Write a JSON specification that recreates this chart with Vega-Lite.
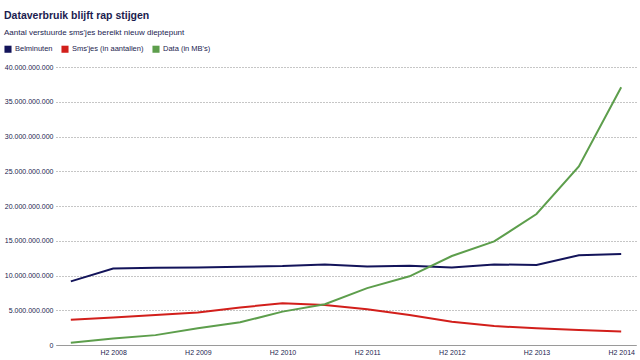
{
  "$schema": "https://vega.github.io/schema/vega-lite/v6.json",
  "width": 580,
  "height": 278,
  "padding": {"left": 4, "top": 10, "right": 4, "bottom": 2},
  "background": "white",
  "title": {
    "text": "Dataverbruik blijft rap stijgen",
    "subtitle": "Aantal verstuurde sms'jes bereikt nieuw dieptepunt",
    "anchor": "start",
    "font": "Liberation Sans",
    "fontSize": 10.5,
    "fontWeight": "bold",
    "color": "#1b1c4f",
    "subtitleFont": "Liberation Sans",
    "subtitleFontSize": 8,
    "subtitleColor": "#1b1c4f",
    "subtitlePadding": 8,
    "offset": 8
  },
  "data": {
    "values": [
      {"periode": "H1 2008", "reeks": "Belminuten", "waarde": 9150000000},
      {"periode": "H2 2008", "reeks": "Belminuten", "waarde": 11000000000},
      {"periode": "H1 2009", "reeks": "Belminuten", "waarde": 11100000000},
      {"periode": "H2 2009", "reeks": "Belminuten", "waarde": 11150000000},
      {"periode": "H1 2010", "reeks": "Belminuten", "waarde": 11250000000},
      {"periode": "H2 2010", "reeks": "Belminuten", "waarde": 11350000000},
      {"periode": "H1 2011", "reeks": "Belminuten", "waarde": 11600000000},
      {"periode": "H2 2011", "reeks": "Belminuten", "waarde": 11300000000},
      {"periode": "H1 2012", "reeks": "Belminuten", "waarde": 11400000000},
      {"periode": "H2 2012", "reeks": "Belminuten", "waarde": 11150000000},
      {"periode": "H1 2013", "reeks": "Belminuten", "waarde": 11600000000},
      {"periode": "H2 2013", "reeks": "Belminuten", "waarde": 11500000000},
      {"periode": "H1 2014", "reeks": "Belminuten", "waarde": 12900000000},
      {"periode": "H2 2014", "reeks": "Belminuten", "waarde": 13100000000},
      {"periode": "H1 2008", "reeks": "Sms'jes (in aantallen)", "waarde": 3650000000},
      {"periode": "H2 2008", "reeks": "Sms'jes (in aantallen)", "waarde": 3950000000},
      {"periode": "H1 2009", "reeks": "Sms'jes (in aantallen)", "waarde": 4300000000},
      {"periode": "H2 2009", "reeks": "Sms'jes (in aantallen)", "waarde": 4670000000},
      {"periode": "H1 2010", "reeks": "Sms'jes (in aantallen)", "waarde": 5400000000},
      {"periode": "H2 2010", "reeks": "Sms'jes (in aantallen)", "waarde": 6000000000},
      {"periode": "H1 2011", "reeks": "Sms'jes (in aantallen)", "waarde": 5770000000},
      {"periode": "H2 2011", "reeks": "Sms'jes (in aantallen)", "waarde": 5140000000},
      {"periode": "H1 2012", "reeks": "Sms'jes (in aantallen)", "waarde": 4320000000},
      {"periode": "H2 2012", "reeks": "Sms'jes (in aantallen)", "waarde": 3360000000},
      {"periode": "H1 2013", "reeks": "Sms'jes (in aantallen)", "waarde": 2730000000},
      {"periode": "H2 2013", "reeks": "Sms'jes (in aantallen)", "waarde": 2400000000},
      {"periode": "H1 2014", "reeks": "Sms'jes (in aantallen)", "waarde": 2150000000},
      {"periode": "H2 2014", "reeks": "Sms'jes (in aantallen)", "waarde": 1960000000},
      {"periode": "H1 2008", "reeks": "Data (in MB's)", "waarde": 320000000},
      {"periode": "H2 2008", "reeks": "Data (in MB's)", "waarde": 940000000},
      {"periode": "H1 2009", "reeks": "Data (in MB's)", "waarde": 1420000000},
      {"periode": "H2 2009", "reeks": "Data (in MB's)", "waarde": 2400000000},
      {"periode": "H1 2010", "reeks": "Data (in MB's)", "waarde": 3260000000},
      {"periode": "H2 2010", "reeks": "Data (in MB's)", "waarde": 4800000000},
      {"periode": "H1 2011", "reeks": "Data (in MB's)", "waarde": 5870000000},
      {"periode": "H2 2011", "reeks": "Data (in MB's)", "waarde": 8190000000},
      {"periode": "H1 2012", "reeks": "Data (in MB's)", "waarde": 9880000000},
      {"periode": "H2 2012", "reeks": "Data (in MB's)", "waarde": 12800000000},
      {"periode": "H1 2013", "reeks": "Data (in MB's)", "waarde": 14900000000},
      {"periode": "H2 2013", "reeks": "Data (in MB's)", "waarde": 18850000000},
      {"periode": "H1 2014", "reeks": "Data (in MB's)", "waarde": 25700000000},
      {"periode": "H2 2014", "reeks": "Data (in MB's)", "waarde": 37100000000}
    ]
  },
  "mark": {"type": "line", "strokeWidth": 2, "interpolate": "linear"},
  "encoding": {
    "x": {
      "field": "periode",
      "type": "ordinal",
      "sort": null,
      "scale": {"type": "point", "padding": 0.35},
      "axis": {
        "title": null,
        "labelAngle": 0,
        "labelExpr": "indexof(datum.value, 'H2') == 0 ? datum.value : ''",
        "labelFont": "Liberation Sans",
        "labelFontSize": 7,
        "labelColor": "#1b1c4f",
        "labelPadding": 3,
        "ticks": false,
        "domainColor": "#9a9a9a",
        "domainWidth": 1,
        "grid": false
      }
    },
    "y": {
      "field": "waarde",
      "type": "quantitative",
      "scale": {"domain": [0, 40000000000], "nice": false},
      "axis": {
        "title": null,
        "values": [0, 5000000000, 10000000000, 15000000000, 20000000000, 25000000000, 30000000000, 35000000000, 40000000000],
        "labelOverlap": false,
        "labelExpr": "replace(format(datum.value, ',d'), regexp(',', 'g'), '.')",
        "labelFont": "Liberation Sans",
        "labelFontSize": 7,
        "labelColor": "#1b1c4f",
        "labelPadding": 3,
        "ticks": false,
        "domain": false,
        "grid": true,
        "gridColor": "#8c8c8c",
        "gridDash": [1, 2],
        "gridWidth": 1
      }
    },
    "color": {
      "field": "reeks",
      "type": "nominal",
      "sort": null,
      "scale": {
        "domain": ["Belminuten", "Sms'jes (in aantallen)", "Data (in MB's)"],
        "range": ["#13145a", "#d21f1b", "#5d9e4c"]
      },
      "legend": {
        "title": null,
        "orient": "none",
        "direction": "horizontal",
        "legendX": -52,
        "legendY": -22,
        "symbolType": "square",
        "symbolSize": 50,
        "symbolStrokeWidth": 0,
        "symbolOpacity": 1,
        "labelFont": "Liberation Sans",
        "labelFontSize": 7.5,
        "labelColor": "#1b1c4f",
        "columnPadding": 8,
        "labelOffset": 3,
        "encode": {
          "symbols": {
            "update": {
              "fill": {"scale": "color", "field": "value"},
              "strokeWidth": {"value": 0}
            }
          }
        }
      }
    }
  },
  "config": {
    "view": {"stroke": null}
  }
}
